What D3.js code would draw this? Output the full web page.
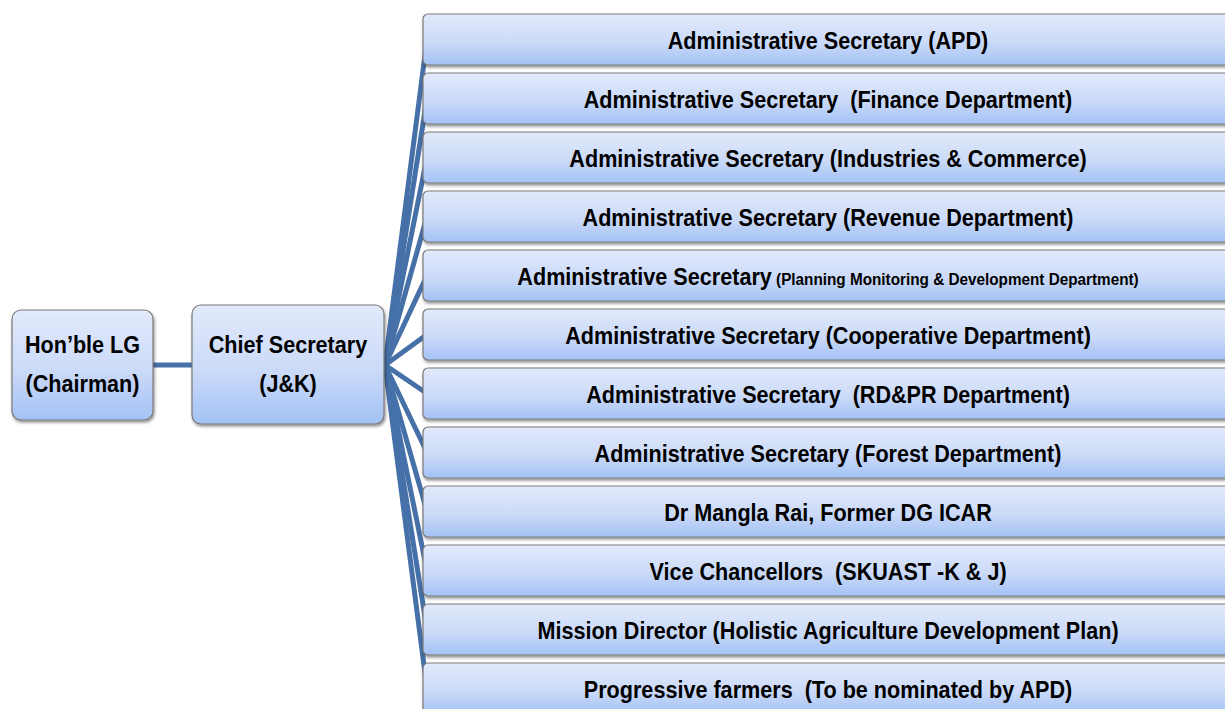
<!DOCTYPE html>
<html>
<head>
<script src="https://d3js.org/d3.v7.min.js"></script>
<style>
  body { margin: 0; background: #fff; }
  text { font-family: "Liberation Sans", Arial, sans-serif; font-weight: bold; fill: #000; white-space: pre; }
</style>
</head>
<body>
<script>
// members of the committee (right column), top to bottom
const members = [
  ["Administrative Secretary (APD)"],
  ["Administrative Secretary  (Finance Department)"],
  ["Administrative Secretary (Industries & Commerce)"],
  ["Administrative Secretary (Revenue Department)"],
  ["Administrative Secretary", " (Planning Monitoring & Development Department)"],
  ["Administrative Secretary (Cooperative Department)"],
  ["Administrative Secretary  (RD&PR Department)"],
  ["Administrative Secretary (Forest Department)"],
  ["Dr Mangla Rai, Former DG ICAR"],
  ["Vice Chancellors  (SKUAST -K & J)"],
  ["Mission Director (Holistic Agriculture Development Plan)"],
  ["Progressive farmers  (To be nominated by APD)"]
];
const chairLines = ["Hon\u2019ble LG", "(Chairman)"];
const chiefLines = ["Chief Secretary", "(J&K)"];

const W = 1225, H = 709;
const squeeze = 0.9;   // the original lettering is a slightly condensed bold sans
const svg = d3.select('body').append('svg').attr('width', W).attr('height', H);

const defs = svg.append('defs');
const grad = defs.append('linearGradient').attr('id', 'boxg')
  .attr('x1', 0).attr('y1', 0).attr('x2', 0).attr('y2', 1);
grad.append('stop').attr('offset', '0%').attr('stop-color', '#e2eafb');
grad.append('stop').attr('offset', '55%').attr('stop-color', '#cbdaf8');
grad.append('stop').attr('offset', '100%').attr('stop-color', '#a3c2f5');
const f = defs.append('filter').attr('id', 'sh')
  .attr('x', '-5%').attr('y', '-10%').attr('width', '110%').attr('height', '130%');
f.append('feDropShadow').attr('dx', 1).attr('dy', 2).attr('stdDeviation', 1.5)
  .attr('flood-color', '#000').attr('flood-opacity', 0.45);

// vertical layout of the member boxes
const yScale = d3.scaleBand()
  .domain(d3.range(members.length))
  .range([14, 14 + 59 * members.length - 8])
  .paddingInner(8 / 59).paddingOuter(0).align(0);

const boxX = 423, boxW = 812;
const hub = {x: 385, y: 365};

// fan lines from the chief secretary to each member
svg.append('g').selectAll('line')
  .data(members)
  .join('line')
  .attr('x1', hub.x).attr('y1', hub.y)
  .attr('x2', boxX + 4)
  .attr('y2', (d, i) => yScale(i) + yScale.bandwidth() / 2)
  .attr('stroke', '#4670a8').attr('stroke-width', 5);

// connector between chairman and chief secretary
svg.append('line')
  .attr('x1', 150).attr('x2', 195).attr('y1', hub.y).attr('y2', hub.y)
  .attr('stroke', '#4670a8').attr('stroke-width', 5);

function box(g, x, y, w, h, r) {
  g.append('rect')
    .attr('x', x).attr('y', y).attr('width', w).attr('height', h)
    .attr('rx', r).attr('ry', r)
    .attr('fill', 'url(#boxg)')
    .attr('stroke', '#7a7a7a').attr('stroke-width', 1.2)
    .attr('filter', 'url(#sh)');
}

// left boxes
const left = [
  {lines: chairLines, x: 12, y: 310, w: 141, h: 110},
  {lines: chiefLines, x: 192, y: 305, w: 192, h: 119}
];
left.forEach(b => {
  const g = svg.append('g');
  box(g, b.x, b.y, b.w, b.h, 9);
  g.append('g')
    .attr('transform', `translate(${b.x + b.w / 2},353) scale(${squeeze},1)`)
    .append('text')
    .attr('text-anchor', 'middle').attr('font-size', 24)
    .selectAll('tspan').data(b.lines).join('tspan')
    .attr('x', 0)
    .attr('y', (d, i) => i * 39)
    .text(d => d);
});

// member boxes
const mg = svg.append('g').selectAll('g')
  .data(members)
  .join('g')
  .attr('transform', (d, i) => `translate(${boxX},${yScale(i)})`);
mg.each(function() { box(d3.select(this), 0, 0, boxW, yScale.bandwidth(), 5); });
mg.append('g')
  .attr('transform', `translate(405,${yScale.bandwidth() / 2 + 9}) scale(${squeeze},1)`)
  .append('text')
  .attr('text-anchor', 'middle').attr('font-size', 24)
  .selectAll('tspan').data(d => d).join('tspan')
  .attr('font-size', (d, i) => i === 0 ? 24 : 17)
  .text(d => d);
</script>
</body>
</html>
